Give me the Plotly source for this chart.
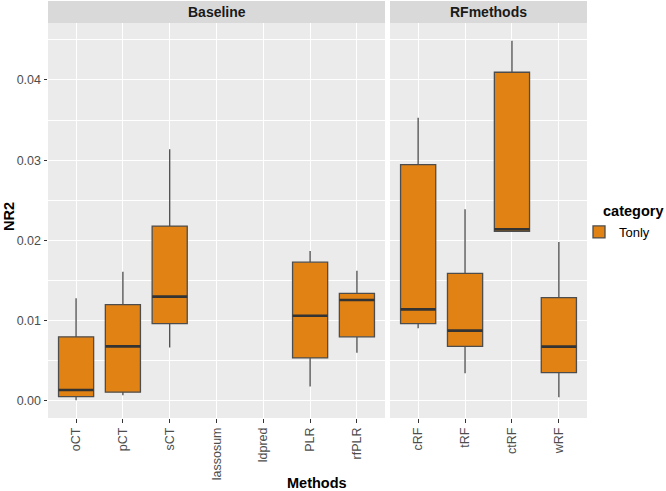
import plotly.graph_objects as go

# ---------------- data ----------------
base_methods = ["oCT", "pCT", "sCT", "lassosum", "ldpred", "PLR", "rfPLR"]
base_low = [0.0001, 0.0007, 0.00665, None, None, 0.00179, 0.00602]
base_q1 = [0.00054, 0.0011, 0.00964, None, None, 0.00536, 0.0080]
base_med = [0.00137, 0.0068, 0.0130, None, None, 0.01063, 0.01259]
base_q3 = [0.0080, 0.0120, 0.0218, None, None, 0.0173, 0.01342]
base_high = [0.0128, 0.0161, 0.03136, None, None, 0.0187, 0.01624]

rf_methods = ["cRF", "tRF", "ctRF", "wRF"]
rf_low = [0.00906, 0.00345, 0.02115, 0.00046]
rf_q1 = [0.00964, 0.0068, 0.02115, 0.00353]
rf_med = [0.01142, 0.00877, 0.0214, 0.00677]
rf_q3 = [0.02945, 0.0159, 0.04096, 0.01288]
rf_high = [0.0353, 0.0239, 0.0449, 0.0198]

facets = ["Baseline", "RFmethods"]
y_ticks = [0.00, 0.01, 0.02, 0.03, 0.04]
y_ticktext = ["0.00", "0.01", "0.02", "0.03", "0.04"]

FILL = "#E08214"
EDGE = "#4D4D4D"
FONT = "Liberation Sans, Arial, sans-serif"

fig = go.Figure()

def add_facet(methods, low, q1, med, q3, high, xa, showlegend):
    idx = [i for i in range(len(methods)) if med[i] is not None]
    pos = [i + 1 for i in idx]
    fig.add_trace(go.Box(
        x=pos,
        lowerfence=[low[i] for i in idx],
        q1=[q1[i] for i in idx],
        median=[med[i] for i in idx],
        q3=[q3[i] for i in idx],
        upperfence=[high[i] for i in idx],
        width=0.75,
        whiskerwidth=0,
        boxpoints=False,
        fillcolor=FILL,
        line=dict(color=EDGE, width=1.3),
        name="Tonly",
        legendgroup="Tonly",
        showlegend=showlegend,
        xaxis=xa, yaxis="y",
        hoverinfo="skip",
    ))
    mx, my = [], []
    for i in idx:
        mx += [i + 1 - 0.375, i + 1 + 0.375, None]
        my += [med[i], med[i], None]
    fig.add_trace(go.Scatter(
        x=mx, y=my, mode="lines",
        line=dict(color="#333333", width=2.6),
        showlegend=False, hoverinfo="skip",
        xaxis=xa, yaxis="y",
    ))

add_facet(base_methods, base_low, base_q1, base_med, base_q3, base_high, "x", True)
add_facet(rf_methods, rf_low, rf_q1, rf_med, rf_q3, rf_high, "x2", False)

axis_common = dict(
    showgrid=True, gridcolor="white", gridwidth=1.1,
    zeroline=False, showline=False,
    ticks="outside", ticklen=3.5, tickwidth=1, tickcolor="#333333",
    tickfont=dict(family=FONT, size=12.5, color="#4D4D4D"),
    tickangle=-90,
)

fig.update_layout(
    width=666, height=491,
    margin=dict(l=48, r=79, t=23, b=73, autoexpand=False),
    paper_bgcolor="white",
    plot_bgcolor="#EBEBEB",
    font=dict(family=FONT),
    xaxis=dict(domain=[0, 337 / 539], range=[0.4, len(base_methods) + 0.6],
               tickvals=list(range(1, len(base_methods) + 1)), ticktext=base_methods,
               anchor="y", **axis_common),
    xaxis2=dict(domain=[342 / 539, 1], range=[0.4, len(rf_methods) + 0.6],
                tickvals=list(range(1, len(rf_methods) + 1)), ticktext=rf_methods,
                anchor="y", **axis_common),
    yaxis=dict(range=[-0.00212, 0.0471], tickvals=y_ticks, ticktext=y_ticktext,
               showgrid=True, gridcolor="white", gridwidth=1.1,
               minor=dict(dtick=0.005, tick0=0, showgrid=True, gridcolor="white", gridwidth=0.5, ticks=""),
               zeroline=False, showline=False,
               ticks="outside", ticklen=3.5, tickwidth=1, tickcolor="#333333",
               tickfont=dict(family=FONT, size=12.5, color="#4D4D4D"),
               anchor="x"),
    legend=dict(
        font=dict(family=FONT, size=13, color="black"),
        x=(579 - 48) / 539, xanchor="left", y=(418 - 217) / 395, yanchor="top",
        bgcolor="rgba(0,0,0,0)", tracegroupgap=0, itemwidth=30,
    ),
    showlegend=True,
)

fig.add_annotation(xref="paper", yref="paper", x=(601 - 48) / 539, y=(418 - 211) / 395,
                   text="<b>category</b>", showarrow=False,
                   font=dict(family=FONT, size=14.5, color="black"), xanchor="left", yanchor="middle")

strip_h = 22 / 395
for xd, label in [("x domain", facets[0]), ("x2 domain", facets[1])]:
    fig.add_shape(type="rect", xref=xd, yref="paper", x0=0, x1=1, y0=1, y1=1 + strip_h,
                  fillcolor="#D9D9D9", line=dict(width=0), layer="below")
    fig.add_annotation(xref=xd, yref="paper", x=0.5, y=1 + strip_h / 2, text="<b>" + label + "</b>",
                       showarrow=False, font=dict(family=FONT, size=14, color="#1A1A1A"),
                       xanchor="center", yanchor="middle")

fig.add_annotation(xref="paper", yref="paper", x=(317 - 48) / 539, y=(418 - 483) / 395,
                   text="<b>Methods</b>", showarrow=False,
                   font=dict(family=FONT, size=14.5, color="black"), xanchor="center", yanchor="middle")
fig.add_annotation(xref="paper", yref="paper", x=(9 - 48) / 539, y=(401 - 200) / 395 + 0.0,
                   text="<b>NR2</b>", showarrow=False, textangle=-90,
                   font=dict(family=FONT, size=14.5, color="black"), xanchor="center", yanchor="middle")

fig.write_html("out.html")
